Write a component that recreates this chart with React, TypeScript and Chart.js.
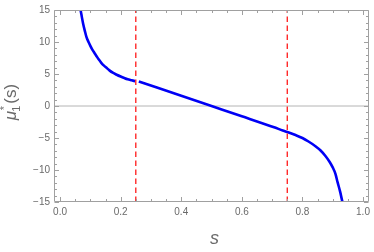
import React, { useEffect, useRef } from "react";
import { Chart, registerables } from "chart.js";

Chart.register(...registerables);

// Left branch of μ*_1(s), s < 0.25
const leftS = [0.066, 0.07, 0.076, 0.082, 0.087, 0.094, 0.1, 0.107, 0.114, 0.12, 0.128, 0.136, 0.145, 0.155, 0.164, 0.174, 0.187, 0.2, 0.212, 0.223, 0.236, 0.248];
const leftMu = [15.4, 14.4, 12.9, 11.7, 10.8, 10.0, 9.4, 8.77, 8.25, 7.82, 7.25, 6.75, 6.3, 5.9, 5.53, 5.2, 4.88, 4.6, 4.37, 4.18, 4.02, 3.88];
// Middle + right branch, s > 0.25
const rightS = [0.26, 0.4, 0.5, 0.6, 0.709, 0.735, 0.75, 0.775, 0.8, 0.82, 0.843, 0.86, 0.876, 0.89, 0.9, 0.909, 0.916, 0.924, 0.932, 0.936];
const rightMu = [3.84, 1.6, 0.0, -1.6, -3.37, -3.82, -4.05, -4.5, -5.0, -5.55, -6.28, -6.95, -7.81, -8.75, -9.6, -10.6, -11.9, -13.3, -15.0, -15.9];
const markerS = [0.25, 0.75];
const xTicks = [0, 0.2, 0.4, 0.6, 0.8, 1.0];
const yTicks = [-15, -10, -5, 0, 5, 10, 15];
const xMin = -0.02;
const xMax = 1.02;
const yMin = -15;
const yMax = 15;

const GRAY_TEXT = "#6a6a6a";
const FONT = '"Liberation Sans", Arial, sans-serif';

const framePlugin = {
  id: "mmaFrame",
  afterDatasetsDraw(chart: any) {
    const { ctx, chartArea: a, scales } = chart;
    const xs = scales.x;
    const ys = scales.y;
    ctx.save();
    ctx.strokeStyle = "#a0a0a0";
    ctx.lineWidth = 1;
    const L = Math.round(a.left) + 0.5;
    const R = Math.round(a.right) - 0.5;
    const T = Math.round(a.top) + 0.5;
    const B = Math.round(a.bottom) - 0.5;
    ctx.beginPath();
    ctx.rect(L, T, R - L, B - T);
    ctx.stroke();
    ctx.beginPath();
    for (let i = 0; i <= 20; i++) {
      const v = i * 0.05;
      const len = i % 4 === 0 ? 4.5 : 2.5;
      const px = Math.round(xs.getPixelForValue(v)) + 0.5;
      ctx.moveTo(px, B);
      ctx.lineTo(px, B - len);
      ctx.moveTo(px, T);
      ctx.lineTo(px, T + len);
    }
    for (let i = -15; i <= 15; i++) {
      const len = i % 5 === 0 ? 4.5 : 2.5;
      const py = Math.round(ys.getPixelForValue(i)) + 0.5;
      ctx.moveTo(L, py);
      ctx.lineTo(L + len, py);
      ctx.moveTo(R, py);
      ctx.lineTo(R - len, py);
    }
    ctx.stroke();
    ctx.restore();
  },
  afterDraw(chart: any) {
    const { ctx, chartArea: a } = chart;
    ctx.save();
    ctx.fillStyle = GRAY_TEXT;
    // x label
    ctx.font = `italic 18px ${FONT}`;
    ctx.textAlign = "center";
    ctx.textBaseline = "alphabetic";
    ctx.fillText("s", (a.left + a.right) / 2 + 3, 244);
    // y label μ*_1(s)
    ctx.translate(16, 102);
    ctx.rotate(-Math.PI / 2);
    ctx.textAlign = "left";
    const parts = [
      { t: "μ", f: `italic 17px ${FONT}`, dy: 0 },
      { t: "*", f: `italic 11px ${FONT}`, dy: -8 },
      { t: "1", f: `11px ${FONT}`, dy: 4 },
      { t: "(s)", f: `17px ${FONT}`, dy: 0 },
    ];
    ctx.font = parts[0].f;
    const w0 = ctx.measureText(parts[0].t).width;
    ctx.font = parts[1].f;
    const w1 = ctx.measureText(parts[1].t).width;
    ctx.font = parts[2].f;
    const w2 = ctx.measureText(parts[2].t).width;
    ctx.font = parts[3].f;
    const w3 = ctx.measureText(parts[3].t).width;
    const total = w0 + Math.max(w1, w2) + w3 + 1;
    let x = -total / 2;
    ctx.font = parts[0].f;
    ctx.fillText(parts[0].t, x, 0);
    x += w0;
    ctx.font = parts[1].f;
    ctx.fillText(parts[1].t, x, parts[1].dy);
    ctx.font = parts[2].f;
    ctx.fillText(parts[2].t, x - 1, parts[2].dy);
    x += Math.max(w1, w2) + 1;
    ctx.font = parts[3].f;
    ctx.fillText(parts[3].t, x, 0);
    ctx.restore();
  },
};

export default function App() {
  const ref = useRef<HTMLCanvasElement | null>(null);
  useEffect(() => {
    document.body.style.margin = "0";
    const canvas = ref.current;
    if (!canvas) return;
    const toPts = (xs: number[], ys: number[]) => xs.map((s, i) => ({ x: s, y: ys[i] }));
    const chart = new Chart(canvas, {
      type: "line",
      data: {
        datasets: [
          ...markerS.map((m) => ({
            data: [
              { x: m, y: yMin },
              { x: m, y: yMax },
            ],
            borderColor: "rgb(255,25,25)",
            borderWidth: 1.3,
            borderDash: [5.5, 3.5],
            pointRadius: 0,
            fill: false,
          })),
          {
            data: toPts(leftS, leftMu),
            borderColor: "rgb(0,0,245)",
            borderWidth: 2.6,
            pointRadius: 0,
            cubicInterpolationMode: "monotone",
            fill: false,
          },
          {
            data: toPts(rightS, rightMu),
            borderColor: "rgb(0,0,245)",
            borderWidth: 2.6,
            pointRadius: 0,
            cubicInterpolationMode: "monotone",
            fill: false,
          },
          {
            data: [
              { x: xMin, y: 0 },
              { x: xMax, y: 0 },
            ],
            borderColor: "#b4b4b4",
            borderWidth: 1,
            pointRadius: 0,
            fill: false,
          },
        ],
      },
      options: {
        responsive: false,
        animation: false,
        layout: { padding: { left: 0, right: 2, top: 6, bottom: 0 } },
        plugins: { legend: { display: false }, tooltip: { enabled: false } },
        scales: {
          x: {
            type: "linear",
            min: xMin,
            max: xMax,
            afterBuildTicks: (s: any) => {
              s.ticks = xTicks.map((v) => ({ value: v }));
            },
            afterFit: (s: any) => {
              s.height = 50;
            },
            grid: { display: false, drawTicks: false },
            border: { display: false },
            ticks: {
              padding: 4,
              color: GRAY_TEXT,
              font: { size: 10, family: FONT },
              maxRotation: 0,
              autoSkip: false,
              callback: (v: any) => Number(v).toFixed(1),
            },
          },
          y: {
            type: "linear",
            min: yMin,
            max: yMax,
            afterBuildTicks: (s: any) => {
              s.ticks = yTicks.map((v) => ({ value: v }));
            },
            afterFit: (s: any) => {
              s.width = 54;
            },
            grid: { display: false, drawTicks: false },
            border: { display: false },
            ticks: {
              padding: 4,
              color: GRAY_TEXT,
              font: { size: 10, family: FONT },
              autoSkip: false,
              callback: (v: any) => (Number(v) < 0 ? "\u2212" + Math.abs(Number(v)) : String(v)),
            },
          },
        },
      },
      plugins: [framePlugin],
    } as any);
    return () => chart.destroy();
  }, []);
  return (
    <div style={{ width: 374, height: 252 }}>
      <canvas ref={ref} width={374} height={252} style={{ display: "block" }} />
    </div>
  );
}
